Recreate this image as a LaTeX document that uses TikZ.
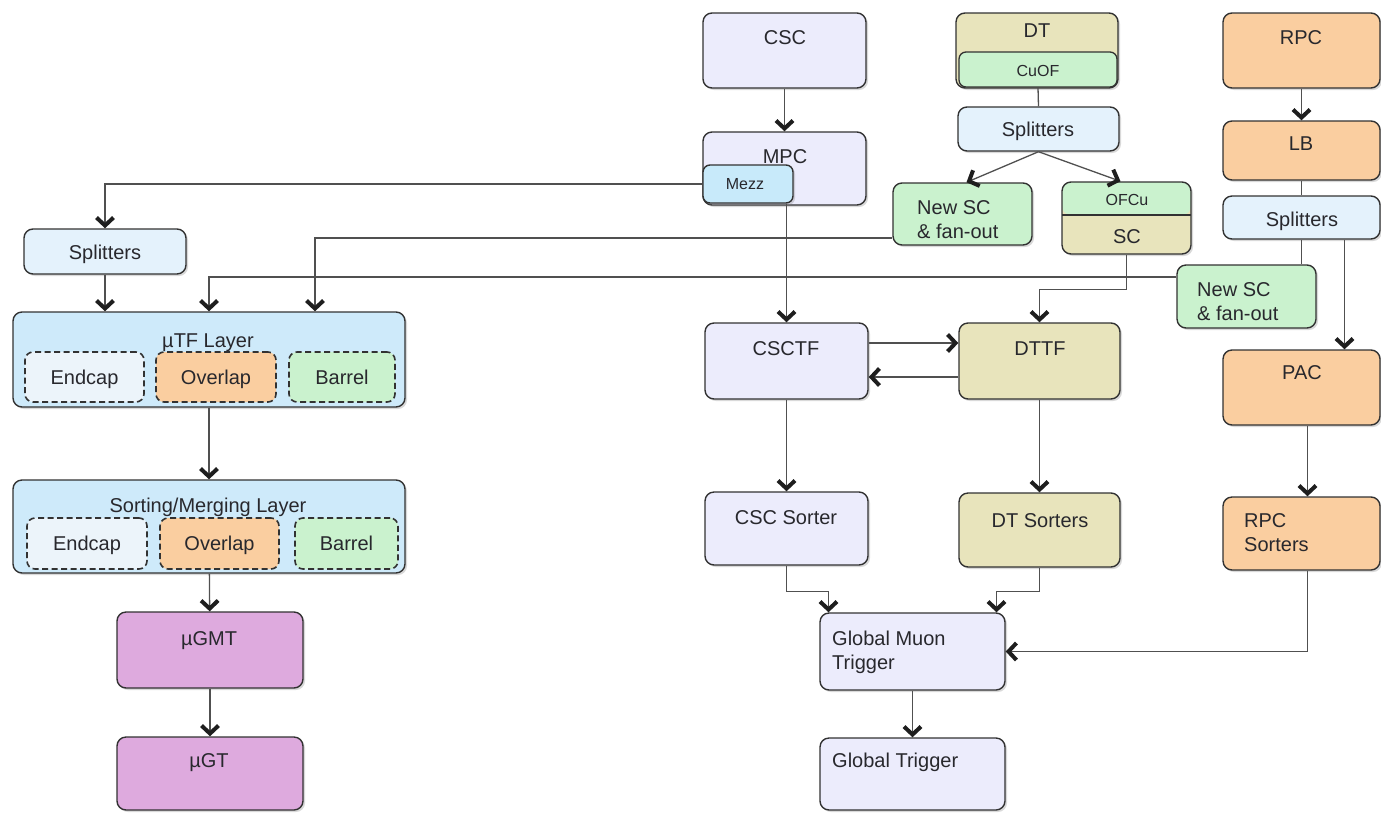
\documentclass[tikz,border=0pt]{standalone}
\usepackage{fontspec}
\setmainfont{Liberation Sans}
\usetikzlibrary{arrows.meta,shadows,calc}
\definecolor{cscf}{RGB}{236,236,252}
\definecolor{dtf}{RGB}{232,228,188}
\definecolor{grn}{RGB}{202,242,206}
\definecolor{org}{RGB}{250,206,160}
\definecolor{splf}{RGB}{228,242,252}
\definecolor{layf}{RGB}{206,234,250}
\definecolor{mezf}{RGB}{200,234,250}
\definecolor{mag}{RGB}{222,170,222}
\definecolor{endf}{RGB}{236,244,250}
\definecolor{edge}{RGB}{50,50,50}
\definecolor{wire}{RGB}{80,80,80}
\definecolor{txt}{RGB}{40,40,45}
\definecolor{tipc}{RGB}{30,30,30}
\tikzset{
  box/.style={draw=edge, line width=1.4pt, rounded corners=9pt, inner sep=0pt,
    drop shadow={shadow xshift=2pt, shadow yshift=-2pt, opacity=0.3}},
  dbox/.style={draw=edge, line width=1.6pt, rounded corners=8pt, inner sep=0pt,
    dash pattern=on 6pt off 3.5pt},
  lbl/.style={text=txt, font=\fontsize{20}{24}\selectfont, inner sep=0pt,
    text height=14pt, text depth=0pt},
  sml/.style={text=txt, font=\fontsize{16}{19}\selectfont, inner sep=0pt,
    text height=11.5pt, text depth=0pt},
  mlbl/.style={text=txt, font=\fontsize{20}{24}\selectfont, inner sep=0pt,
    align=left, anchor=north west},
  conn/.style={draw=wire, line width=1.3pt},
  arr/.style={conn, -{Straight Barb[length=8pt,width=17pt,line width=4pt,color=tipc]}}
}
\begin{document}
\begin{tikzpicture}[x=1pt,y=-1pt]
\useasboundingbox (0,0) rectangle (1381,812);

% ---------- CSC column ----------
\node[box, fill=cscf, minimum width=163pt, minimum height=75pt] (csc) at (784.5,50.5) {};
\node[lbl] (csct) at (785,37) {CSC};
\node[box, fill=cscf, minimum width=163pt, minimum height=73pt] (mpc) at (784.5,168.5) {};
\node[lbl] (mpct) at (785,156) {MPC};
\node[box, fill=mezf, minimum width=90pt, minimum height=38pt, rounded corners=7pt] (mezz) at (748,184) {};
\node[sml] (mezzt) at (745,184) {Mezz};

\node[box, fill=cscf, minimum width=163pt, minimum height=76pt] (csctf) at (786.5,361) {};
\node[lbl] (csctft) at (786,348) {CSCTF};
\node[box, fill=cscf, minimum width=163pt, minimum height=73pt] (cscsort) at (786.5,528.5) {};
\node[lbl] (cscsortt) at (786,517) {CSC Sorter};

\node[box, fill=cscf, minimum width=185pt, minimum height=77pt] (gmt) at (912.5,651.5) {};
\node[mlbl] (gmtt) at (832,631) {Global Muon\\Trigger};
\node[box, fill=cscf, minimum width=185pt, minimum height=72pt] (gt) at (912.5,774) {};
\node[mlbl] (gtt) at (832,753) {Global Trigger};

% ---------- DT column ----------
\node[box, fill=dtf, minimum width=162pt, minimum height=75pt] (dt) at (1037,50.5) {};
\node[lbl] (dtt) at (1037,30) {DT};
\node[draw=edge, line width=1.3pt, rounded corners=7pt, fill=grn, inner sep=0pt,
      minimum width=158pt, minimum height=35pt] (cuof) at (1038,69.5) {};
\node[sml] (cuoft) at (1038,71) {CuOF};
\node[box, fill=splf, minimum width=161pt, minimum height=44pt] (dtsplit) at (1038.5,129) {};
\node[lbl] (dtsplitt) at (1038,129) {Splitters};
\node[box, fill=grn, minimum width=139pt, minimum height=62pt] (nsc1) at (962.5,214) {};
\node[mlbl] (nsc1t) at (917,200) {New SC\\\& fan-out};
\node[box, fill=dtf, minimum width=129pt, minimum height=72pt,
      path picture={
        \fill[grn] (path picture bounding box.north west) rectangle ([yshift=-33pt]path picture bounding box.north east);
        \draw[edge, line width=1.3pt] ([yshift=-33pt]path picture bounding box.north west) -- ([yshift=-33pt]path picture bounding box.north east);
      }] (sc) at (1126.5,218) {};
\node[sml] (ofcut) at (1127,200) {OFCu};
\node[lbl] (sct) at (1127,236) {SC};

\node[box, fill=dtf, minimum width=161pt, minimum height=76pt] (dttf) at (1039.5,361) {};
\node[lbl] (dttft) at (1040,348) {DTTF};
\node[box, fill=dtf, minimum width=161pt, minimum height=74pt] (dtsort) at (1039.5,530) {};
\node[lbl] (dtsortt) at (1040,520) {DT Sorters};

% ---------- RPC column ----------
\node[box, fill=org, minimum width=157pt, minimum height=75pt] (rpc) at (1301.5,50.5) {};
\node[lbl] (rpct) at (1301,37) {RPC};
\node[box, fill=org, minimum width=157pt, minimum height=59pt] (lb) at (1301.5,150.5) {};
\node[lbl] (lbt) at (1301,143) {LB};
\node[box, fill=splf, minimum width=157pt, minimum height=43pt] (rsplit) at (1301.5,217.5) {};
\node[lbl] (rsplitt) at (1302,219) {Splitters};
\node[box, fill=grn, minimum width=139pt, minimum height=63pt] (nsc2) at (1246.5,296.5) {};
\node[mlbl] (nsc2t) at (1197,282) {New SC\\\& fan-out};
\node[box, fill=org, minimum width=157pt, minimum height=75pt] (pac) at (1301.5,387.5) {};
\node[lbl] (pact) at (1302,372) {PAC};
\node[box, fill=org, minimum width=157pt, minimum height=73pt] (rpcsort) at (1301.5,533.5) {};
\node[mlbl] (rpcsortt) at (1244,513) {RPC\\Sorters};

% ---------- Phase-2 (left) ----------
\node[box, fill=splf, minimum width=162pt, minimum height=45pt] (lsplit) at (105,251.5) {};
\node[lbl] (lsplitt) at (105,252) {Splitters};

\node[box, fill=layf, minimum width=392pt, minimum height=95pt] (utf) at (209,359.5) {};
\node[lbl] (utft) at (208,340) {µTF Layer};
\node[dbox, fill=endf, minimum width=119pt, minimum height=50pt] (utfe) at (84.5,377) {};
\node[lbl] (utfet) at (84.5,377) {Endcap};
\node[dbox, fill=org, minimum width=120pt, minimum height=50pt] (utfo) at (216,377) {};
\node[lbl] (utfot) at (216,377) {Overlap};
\node[dbox, fill=grn, minimum width=106pt, minimum height=50pt] (utfb) at (342,377) {};
\node[lbl] (utfbt) at (342,377) {Barrel};

\node[box, fill=layf, minimum width=392pt, minimum height=93pt] (sml) at (209,526.5) {};
\node[lbl] (smlt) at (208,505) {Sorting/Merging Layer};
\node[dbox, fill=endf, minimum width=120pt, minimum height=51pt] (smle) at (87,543.5) {};
\node[lbl] (smlet) at (87,543) {Endcap};
\node[dbox, fill=org, minimum width=119pt, minimum height=51pt] (smlo) at (219.5,543.5) {};
\node[lbl] (smlot) at (219.5,543) {Overlap};
\node[dbox, fill=grn, minimum width=103pt, minimum height=51pt] (smlb) at (346.5,543.5) {};
\node[lbl] (smlbt) at (346.5,543) {Barrel};

\node[box, fill=mag, minimum width=186pt, minimum height=76pt] (ugmt) at (210,650) {};
\node[lbl] (ugmtt) at (209,638) {µGMT};
\node[box, fill=mag, minimum width=186pt, minimum height=73pt] (ugt) at (210,773.5) {};
\node[lbl] (ugtt) at (209,760) {µGT};

% ---------- connectors ----------
\draw[arr] (csc) -- (mpc);
\draw[arr] (mezz.west) -| (lsplit.north);
\draw[arr] (mezz.south -| csctf.north) -- (csctf.north);
\draw[conn] (cuof.south) -- (dtsplit.north);
\draw[arr] (dtsplit.south) -- ([xshift=4pt]nsc1.north);
\draw[arr] (dtsplit.south) -- ([xshift=-6pt]sc.north);
\draw[arr] ([yshift=-24pt]nsc1.west) -| ([xshift=106pt]utf.north);
\draw[arr] (sc.south) -- ++(0,35) -| (dttf.north);
\draw[arr] (rpc) -- (lb);
\draw[conn] (lb) -- (rsplit);
\draw[conn] (rsplit.south) -- (rsplit.south |- nsc2.north);
\draw[arr] ([xshift=43pt]rsplit.south) -- ([xshift=43pt]rsplit.south |- pac.north);
\draw[arr] ([yshift=19.5pt]nsc2.west) -| (utf.north);
\draw[arr] (lsplit) -- (lsplit.south |- utf.north);
\draw[arr] (utf) -- (sml);
\draw[arr] (sml) -- (ugmt);
\draw[arr] (ugmt) -- (ugt);
\draw[arr, line width=2.8pt] ([yshift=18pt]csctf.east) -- ([yshift=18pt]dttf.west);
\draw[arr] ([yshift=-16pt]dttf.west) -- ([yshift=-16pt]csctf.east);
\draw[arr] (csctf) -- (cscsort);
\draw[arr] (dttf) -- (dtsort);
\draw[arr] ([xshift=6pt]pac.south) -- ([xshift=6pt]pac.south |- rpcsort.north);
\draw[arr] (cscsort.south) -- ++(0,26) -| ([xshift=-84pt]gmt.north);
\draw[arr] (dtsort.south) -- ++(0,24) -| ([xshift=84pt]gmt.north);
\draw[arr] ([xshift=6pt]rpcsort.south) |- (gmt.east);
\draw[arr] (gmt) -- (gt);
\end{tikzpicture}
\end{document}
